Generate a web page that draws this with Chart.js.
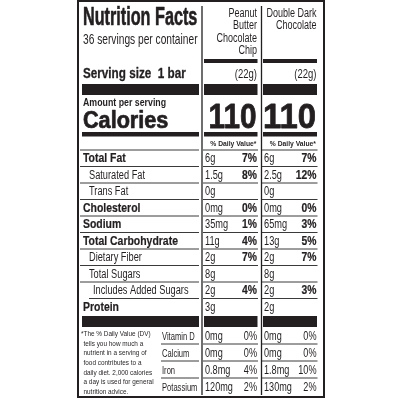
<!DOCTYPE html>
<html>
<head>
<meta charset="utf-8">
<script src="https://cdn.jsdelivr.net/npm/chart.js"></script>
<style>
  html, body { margin: 0; padding: 0; background: #fff; }
  #label { display: block; }
</style>
</head>
<body>
<canvas id="label" width="400" height="400"></canvas>
<script>
const products = [['Peanut', 'Butter', 'Chocolate', 'Chip'], ['Double Dark', 'Chocolate']];
const servingsPerContainer = '36 servings per container';
const servingSize = 'Serving size  1 bar';
const servingWeight = ['(22g)', '(22g)'];
const calories = [110, 110];

const nutrients = ['Total Fat', 'Saturated Fat', 'Trans Fat', 'Cholesterol', 'Sodium',
  'Total Carbohydrate', 'Dietary Fiber', 'Total Sugars', 'Includes Added Sugars', 'Protein'];
const nutrientLevel = [0, 1, 1, 0, 0, 0, 1, 1, 2, 0];
const amountsA = ['6g', '1.5g', '0g', '0mg', '35mg', '11g', '2g', '8g', '2g', '3g'];
const dailyA = ['7%', '8%', '', '0%', '1%', '4%', '7%', '', '4%', ''];
const amountsB = ['6g', '2.5g', '0g', '0mg', '65mg', '13g', '2g', '8g', '2g', '2g'];
const dailyB = ['7%', '12%', '', '0%', '3%', '5%', '7%', '', '3%', ''];

const vitamins = ['Vitamin D', 'Calcium', 'Iron', 'Potassium'];
const vitAmountsA = ['0mg', '0mg', '0.8mg', '120mg'];
const vitDailyA = ['0%', '0%', '4%', '2%'];
const vitAmountsB = ['0mg', '0mg', '1.8mg', '130mg'];
const vitDailyB = ['0%', '0%', '10%', '2%'];

const footnote = ['*The % Daily Value (DV)', 'tells you how much a', 'nutrient in a serving of',
  'food contributes to a', 'daily diet. 2,000 calories', 'a day is used for general', 'nutrition advice.'];

// ---- layout (label units = canvas px) ----
const INK = '#231f20';
const FONT = '"Liberation Sans", Arial, Helvetica, sans-serif';
const left = { l: 82, r: 199 };
const cols = [{ l: 204, r: 257.5 }, { l: 263, r: 317 }];
const calWidth = [48, 53];
const rowTop = 150, rowH = 16.5;
const vitTop = 327, vitH = 17;

function text(ctx, s, x, y, size, bold, align, sx, heavy) {
  ctx.save();
  ctx.font = (bold ? 'bold ' : '') + size + 'px ' + FONT;
  ctx.translate(x, y);
  ctx.scale(sx, 1);
  ctx.textAlign = align || 'left';
  ctx.textBaseline = 'alphabetic';
  ctx.fillStyle = INK;
  ctx.fillText(s, 0, 0);
  if (heavy) {
    ctx.strokeStyle = INK;
    ctx.lineWidth = heavy;
    ctx.lineJoin = 'round';
    ctx.strokeText(s, 0, 0);
  }
  ctx.restore();
}

function fitText(ctx, s, x, y, size, width, align, heavy) {
  ctx.font = 'bold ' + size + 'px ' + FONT;
  const w = ctx.measureText(s).width;
  text(ctx, s, x, y, size, true, align, width / w, heavy);
}

const labelPlugin = {
  id: 'nutritionLabel',
  afterDraw(chart) {
    const ctx = chart.ctx;
    const X = v => chart.scales.x.getPixelForValue(v);
    const Y = v => chart.scales.y.getPixelForValue(v);
    const hline = (x1, x2, y, lw, color) => {
      ctx.strokeStyle = color || INK;
      ctx.lineWidth = lw;
      ctx.beginPath();
      ctx.moveTo(X(x1), Y(y));
      ctx.lineTo(X(x2), Y(y));
      ctx.stroke();
    };
    const bar = (sec, y, h) => {
      ctx.fillStyle = INK;
      ctx.fillRect(X(sec.l), Y(y), X(sec.r) - X(sec.l), Y(y + h) - Y(y));
    };

    ctx.save();
    // frame and column dividers
    ctx.strokeStyle = INK;
    ctx.lineWidth = 2;
    ctx.strokeRect(X(78), Y(1), X(324) - X(78), Y(397) - Y(1));
    ctx.lineWidth = 1.3;
    [202, 261.5].forEach(x => {
      ctx.beginPath();
      ctx.moveTo(X(x), Y(6));
      ctx.lineTo(X(x), Y(395));
      ctx.stroke();
    });

    // header
    text(ctx, 'Nutrition Facts', X(83), Y(25), 25, true, 'left', 0.648, 0.6);
    text(ctx, servingsPerContainer, X(83), Y(44), 15, false, 'left', 0.68);
    products.forEach((lines, c) => {
      lines.forEach((s, i) => text(ctx, s, X(cols[c].r - 0.5), Y(16.7 + i * 12.5), 12, false, 'right', 0.75));
      bar(cols[c], 59, 4);
    });
    text(ctx, servingSize, X(83), Y(77.5), 15, true, 'left', 0.78, 0.3);
    servingWeight.forEach((s, c) => text(ctx, s, X(cols[c].r - 0.5), Y(77.5), 13, false, 'right', 0.73));
    [left].concat(cols).forEach(sec => bar(sec, 84, 11));

    // calories
    text(ctx, 'Amount per serving', X(83), Y(106), 10, true, 'left', 0.88);
    text(ctx, 'Calories', X(83), Y(127.7), 23, true, 'left', 0.94, 0.7);
    calories.forEach((v, c) => fitText(ctx, String(v), X(cols[c].r - 1), Y(127.7), 35, calWidth[c], 'right', 0.8));
    [left].concat(cols).forEach(sec => bar(sec, 132, 4.5));
    cols.forEach(col => text(ctx, '% Daily Value*', X(col.r - 1), Y(146), 7.5, true, 'right', 0.9));

    // nutrient rows
    const amounts = [amountsA, amountsB];
    const daily = [dailyA, dailyB];
    nutrients.forEach((name, i) => {
      const top = rowTop + i * rowH;
      const base = top + 12.3;
      const lvl = nutrientLevel[i];
      const lineLeft = i > 0 && nutrientLevel[i - 1] === 2 ? 89 : 80;
      hline(lineLeft, left.r, top, 1, '#3a3a3a');
      cols.forEach(col => hline(col.l - 1, col.r + 0.5, top, 1, '#3a3a3a'));
      if (lvl === 0) text(ctx, name, X(83), Y(base), 12, true, 'left', 0.87, 0.2);
      else text(ctx, name, X(lvl === 1 ? 89 : 93), Y(base), 12, false, 'left', 0.77);
      cols.forEach((col, c) => {
        text(ctx, amounts[c][i], X(col.l + 1), Y(base), 12, false, 'left', 0.77);
        if (daily[c][i]) text(ctx, daily[c][i], X(col.r - 0.5), Y(base), 12, true, 'right', 0.86, 0.2);
      });
    });
    [left].concat(cols).forEach(sec => bar(sec, 316, 11));

    // vitamins and minerals
    const vAmounts = [vitAmountsA, vitAmountsB];
    const vDaily = [vitDailyA, vitDailyB];
    vitamins.forEach((name, i) => {
      const top = vitTop + i * vitH;
      const base = top + 12.8;
      if (i > 0) {
        hline(161, left.r, top, 1, '#3a3a3a');
        cols.forEach(col => hline(col.l - 1, col.r + 0.5, top, 1, '#3a3a3a'));
      }
      text(ctx, name, X(162), Y(base), 11.5, false, 'left', 0.66);
      cols.forEach((col, c) => {
        text(ctx, vAmounts[c][i], X(col.l + 1), Y(base), 12, false, 'left', 0.76);
        text(ctx, vDaily[c][i], X(col.r - 0.5), Y(base), 12, false, 'right', 0.76);
      });
    });

    // footnote
    footnote.forEach((s, i) => text(ctx, s, X(i === 0 ? 81 : 83.5), Y(336 + i * 9.67), 8, false, 'left', 0.8));
    ctx.restore();
  }
};

const chart = new Chart(document.getElementById('label'), {
  type: 'scatter',
  data: { datasets: [] },
  options: {
    responsive: false,
    animation: false,
    layout: { padding: 0 },
    plugins: { legend: { display: false }, tooltip: { enabled: false } },
    scales: {
      x: { type: 'linear', min: 0, max: 400, display: false },
      y: { type: 'linear', min: 0, max: 400, reverse: true, display: false }
    }
  },
  plugins: [labelPlugin]
});
</script>
</body>
</html>
